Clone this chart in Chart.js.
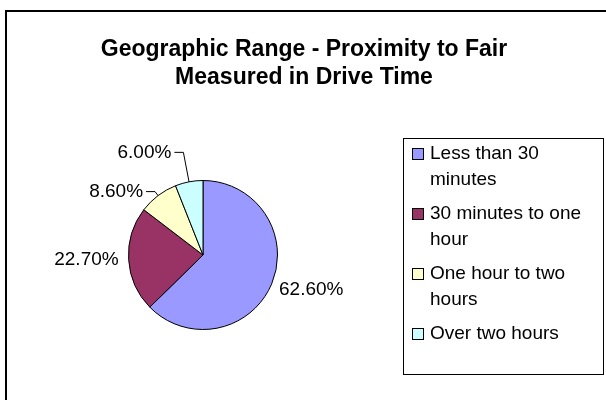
<!DOCTYPE html>
<html>
<head>
<meta charset="utf-8">
<script src="https://cdn.jsdelivr.net/npm/chart.js@4.4.1/dist/chart.umd.min.js"></script>
<style>
  html, body { margin: 0; padding: 0; background: #fff; }
  #wrap { width: 606px; height: 400px; }
</style>
</head>
<body>
<div id="wrap"><canvas id="pie" width="606" height="400"></canvas></div>
<script>
const titleLines = ["Geographic Range - Proximity to Fair", "Measured in Drive Time"];
const categories = ["Less than 30 minutes", "30 minutes to one hour", "One hour to two hours", "Over two hours"];
const legendLines = [["Less than 30", "minutes"], ["30 minutes to one", "hour"], ["One hour to two", "hours"], ["Over two hours"]];
const shares = [62.6, 22.7, 8.6, 6.0];
const sliceColors = ["#9999FF", "#993366", "#FFFFCC", "#CCFFFF"];

const FONT = "'Liberation Sans', Arial, sans-serif";

function el(id) {
  return document.getElementById(id);
}

// outer chart frame (Excel style, runs off the right/bottom edge)
const framePlugin = {
  id: "frame",
  beforeDraw(chart) {
    const ctx = chart.ctx;
    ctx.save();
    ctx.strokeStyle = "#000";
    ctx.lineWidth = 2;
    ctx.strokeRect(6, 11, 620, 420);
    ctx.restore();
  },
};

// two-line bold title, centred over the whole frame
const titlePlugin = {
  id: "bigTitle",
  afterDraw(chart) {
    const ctx = chart.ctx;
    ctx.save();
    ctx.font = `bold 23px ${FONT}`;
    ctx.fillStyle = "#000";
    ctx.textAlign = "center";
    ctx.textBaseline = "middle";
    titleLines.forEach((t, i) => ctx.fillText(t, 304, 50 + i * 28));
    ctx.restore();
  },
};

// percent labels just outside the slices, leader lines on the small ones
const labelOffset = [8, 10, 5, 30];
const labelLeader = [false, false, true, true];

const labelPlugin = {
  id: "pctLabels",
  afterDatasetsDraw(chart) {
    const ctx = chart.ctx;
    const meta = chart.getDatasetMeta(0);
    ctx.save();
    ctx.font = `19px ${FONT}`;
    ctx.fillStyle = "#000";
    ctx.strokeStyle = "#000";
    ctx.lineWidth = 1;
    ctx.textBaseline = "middle";
    meta.data.forEach((arc, i) => {
      const { x, y, startAngle, endAngle, outerRadius } = arc.getProps(["x", "y", "startAngle", "endAngle", "outerRadius"], true);
      const mid = (startAngle + endAngle) / 2;
      const cos = Math.cos(mid);
      const sin = Math.sin(mid);
      const ex = x + outerRadius * cos;
      const ey = y + outerRadius * sin;
      const r = outerRadius + labelOffset[i];
      let ax = x + r * cos;
      const ay = y + r * sin;
      const text = shares[i].toFixed(2) + "%";
      if (labelLeader[i]) {
        ctx.beginPath();
        ctx.moveTo(ex, ey);
        ctx.lineTo(ax, ay);
        ctx.lineTo(ax - 9, ay);
        ctx.stroke();
        ax -= 12;
      }
      ctx.textAlign = cos >= 0 ? "left" : "right";
      ctx.fillText(text, ax, ay + (i === 0 ? 3 : 0));
    });
    ctx.restore();
  },
};

// boxed legend on the right with wrapped entries
const legendBox = { x: 403, y: 138, w: 200, h: 236 };

const legendPlugin = {
  id: "boxLegend",
  afterDraw(chart) {
    const ctx = chart.ctx;
    const b = legendBox;
    ctx.save();
    ctx.strokeStyle = "#000";
    ctx.lineWidth = 1;
    ctx.strokeRect(b.x + 0.5, b.y + 0.5, b.w, b.h);
    ctx.font = `19px ${FONT}`;
    ctx.textBaseline = "middle";
    ctx.textAlign = "left";
    let y = b.y + 16;
    legendLines.forEach((lines, i) => {
      ctx.fillStyle = sliceColors[i];
      ctx.fillRect(b.x + 9.5, y - 5.5, 11, 11);
      ctx.strokeRect(b.x + 9.5, y - 5.5, 11, 11);
      ctx.fillStyle = "#000";
      lines.forEach((line, j) => ctx.fillText(line, b.x + 27, y + j * 26));
      y += lines.length * 26 + 8;
    });
    ctx.restore();
  },
};

new Chart(el("pie"), {
  type: "pie",
  data: {
    labels: categories,
    datasets: [
      {
        data: shares,
        backgroundColor: sliceColors,
        borderColor: "#000",
        borderWidth: 1,
        hoverOffset: 0,
      },
    ],
  },
  options: {
    responsive: false,
    animation: false,
    devicePixelRatio: 1,
    layout: { padding: { left: 128, right: 328, top: 180, bottom: 70 } },
    plugins: {
      legend: { display: false },
      tooltip: { enabled: false },
      title: { display: false },
    },
  },
  plugins: [framePlugin, titlePlugin, labelPlugin, legendPlugin],
});
</script>
</body>
</html>
